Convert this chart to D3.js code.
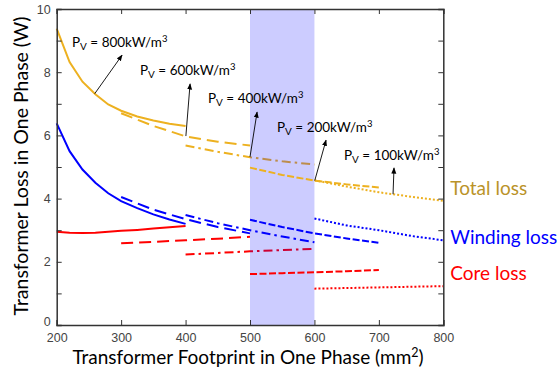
<!DOCTYPE html>
<html>
<head>
<meta charset="utf-8">
<script src="https://cdn.jsdelivr.net/npm/d3@7"></script>
<style>
  body { margin: 0; background: #fff; }
  svg { display: block; }
</style>
</head>
<body>
<svg id="chart" width="557" height="375"></svg>
<script>
// Loss curves, one set per core loss density P_V

// 800 kW/m3 (solid)
const x800 = [200, 220, 240, 260, 280, 300, 325, 350, 375, 400];
const total800 = [9.38, 8.32, 7.7, 7.3, 6.98, 6.78, 6.6, 6.47, 6.37, 6.3];
const winding800 = [6.38, 5.5, 4.92, 4.5, 4.17, 3.92, 3.7, 3.5, 3.34, 3.2];
const core800 = [2.95, 2.92, 2.91, 2.92, 2.95, 2.98, 3.01, 3.05, 3.09, 3.13];

// 600 kW/m3 (long dash)
const x600 = [300, 350, 400, 450, 500];
const total600 = [6.7, 6.3, 5.97, 5.8, 5.68];
const winding600 = [4.05, 3.65, 3.35, 3.1, 2.9];
const core600 = [2.59, 2.63, 2.68, 2.73, 2.79];

// 400 kW/m3 (dash-dot)
const x400 = [400, 450, 500, 550, 600];
const total400 = [5.68, 5.48, 5.31, 5.18, 5.08];
const winding400 = [3.48, 3.22, 3.0, 2.8, 2.62];
const core400 = [2.23, 2.28, 2.33, 2.37, 2.41];

// 200 kW/m3 (short dash)
const x200 = [500, 550, 600, 650, 700];
const total200 = [4.98, 4.75, 4.57, 4.45, 4.35];
const winding200 = [3.33, 3.1, 2.9, 2.74, 2.6];
const core200 = [1.61, 1.64, 1.67, 1.7, 1.74];

// 100 kW/m3 (dotted)
const x100 = [600, 650, 700, 750, 800];
const total100 = [4.58, 4.38, 4.2, 4.06, 3.93];
const winding100 = [3.37, 3.15, 3.0, 2.82, 2.68];
const core100 = [1.15, 1.17, 1.19, 1.21, 1.23];

// shaded footprint band
const bandRange = [500, 600];

const xTicks = [200, 300, 400, 500, 600, 700, 800];

const lossNames = ["Total loss", "Winding loss", "Core loss"];
const lossLabelValues = [4.3, 2.75, 1.6];

// annotation labels and the points their arrows join (data units)
const pvLabels = ["800", "600", "400", "200", "100"];
const arrowFrom = [[259, 7.32], [400.5, 5.98], [500, 5.32], [600.5, 4.57], [722, 4.14]];
const arrowTo = [[301.5, 8.54], [407, 7.63], [511, 6.74], [618, 5.85], [723.5, 4.97]];

const svg = d3.select("#chart");
const margin = { left: 56.7, top: 9, right: 113.7, bottom: 50 };
const W = 557 - margin.left - margin.right;
const H = 375 - margin.top - margin.bottom;

const xScale = d3.scaleLinear().domain([200, 800]).range([0, W]);
const yScale = d3.scaleLinear().domain([0, 10]).range([H, 0]);

const g = svg.append("g")
    .attr("transform", `translate(${margin.left},${margin.top})`);

const gold = "#EDB120";
const blue = "#0000FF";
const red = "#FF0000";

const line = d3.line()
    .x(d => xScale(d[0]))
    .y(d => yScale(d[1]));

function drawCurve(xs, ys, color, dash) {
    g.append("path")
        .datum(d3.zip(xs, ys))
        .attr("d", line)
        .attr("fill", "none")
        .attr("stroke", color)
        .attr("stroke-width", 2)
        .attr("stroke-dasharray", dash);
}

// curves underneath the shaded band
drawCurve(x800, total800, gold, null);
drawCurve(x800, winding800, blue, null);
drawCurve(x800, core800, red, null);
drawCurve(x600, total600, gold, "12,6");
drawCurve(x600, winding600, blue, "12,6");
drawCurve(x600, core600, red, "12,6");
drawCurve(x400, total400, gold, "9,4,2.5,4");
drawCurve(x400, winding400, blue, "9,4,2.5,4");
drawCurve(x400, core400, red, "9,4,2.5,4");

// shaded band (translucent so the lines show through)
g.append("rect")
    .attr("x", xScale(bandRange[0]))
    .attr("y", 0)
    .attr("width", xScale(bandRange[1]) - xScale(bandRange[0]))
    .attr("height", H)
    .attr("fill", "#0000FF")
    .attr("fill-opacity", 0.2);

drawCurve(x200, total200, gold, "7,2.5");
drawCurve(x200, winding200, blue, "7,2.5");
drawCurve(x200, core200, red, "7,2.5");
drawCurve(x100, total100, gold, "2,2");
drawCurve(x100, winding100, blue, "2,2");
drawCurve(x100, core100, red, "2,2");

// axes box with inward ticks
const axisColor = "#333";
const tickFont = "'Liberation Sans', Arial, sans-serif";

g.append("g")
    .attr("transform", `translate(0,${H})`)
    .call(d3.axisBottom(xScale).tickValues(xTicks).tickSize(-5).tickPadding(8))
    .call(a => a.selectAll("text").attr("font-size", 12.5).attr("font-family", tickFont).attr("fill", "#444"));
g.append("g")
    .call(d3.axisTop(xScale).tickValues(xTicks).tickSize(-5).tickFormat(""));
g.append("g")
    .call(d3.axisLeft(yScale).tickValues(d3.range(0, 11, 1)).tickSize(-5).tickFormat(d => d % 2 === 0 ? d : "").tickPadding(6))
    .call(a => a.selectAll("text").attr("font-size", 12.5).attr("font-family", tickFont).attr("fill", "#444"))
    .call(a => a.selectAll(".tick").filter(d => d === 0).select("text").attr("dy", "0.05em"));
g.append("g")
    .attr("transform", `translate(${W},0)`)
    .call(d3.axisRight(yScale).tickValues(d3.range(0, 11, 1)).tickSize(-5).tickFormat(""));

g.selectAll(".domain").attr("stroke", axisColor).attr("stroke-width", 1.5);
g.selectAll(".tick line").attr("stroke", axisColor).attr("stroke-width", 1);

// axis titles
const titleFont = "Lato, 'Open Sans', sans-serif";
const xt = svg.append("text")
    .attr("x", margin.left + W / 2 - 2)
    .attr("y", 364)
    .attr("text-anchor", "middle")
    .attr("font-family", titleFont)
    .attr("font-size", 19)
    .attr("fill", "#000");
xt.append("tspan").text("Transformer Footprint in One Phase (mm");
xt.append("tspan").attr("dy", -7).attr("font-size", 12.5).text("2");
xt.append("tspan").attr("dy", 7).text(")");

svg.append("text")
    .attr("transform", `translate(28,${margin.top + H / 2 - 1}) rotate(-90)`)
    .attr("text-anchor", "middle")
    .attr("font-family", titleFont)
    .attr("font-size", 19.5)
    .attr("fill", "#000")
    .text("Transformer Loss in One Phase (W)");

// right side labels
const labelColors = ["#BA9328", blue, red];
lossNames.forEach((name, i) => {
    svg.append("text")
        .attr("x", margin.left + W + 7)
        .attr("y", margin.top + yScale(lossLabelValues[i]) + 6)
        .attr("font-family", titleFont)
        .attr("font-size", 19)
        .attr("fill", labelColors[i])
        .text(name);
});

// P_V annotations
svg.append("defs").append("marker")
    .attr("id", "arrow")
    .attr("viewBox", "0 0 10 10")
    .attr("refX", 9).attr("refY", 5)
    .attr("markerWidth", 7).attr("markerHeight", 7)
    .attr("orient", "auto")
    .append("path")
    .attr("d", "M0,1 L10,5 L0,9 Z")
    .attr("fill", "#000");

const textLeft = [72, 140, 208, 277, 344];
const textBase = [46.5, 75, 103, 131.5, 160];

pvLabels.forEach((pv, i) => {
    g.append("line")
        .attr("x1", xScale(arrowFrom[i][0]))
        .attr("y1", yScale(arrowFrom[i][1]))
        .attr("x2", xScale(arrowTo[i][0]))
        .attr("y2", yScale(arrowTo[i][1]))
        .attr("stroke", "#000")
        .attr("stroke-width", 0.9)
        .attr("marker-end", "url(#arrow)");

    const t = svg.append("text")
        .attr("x", textLeft[i])
        .attr("y", textBase[i])
        .attr("font-family", titleFont)
        .attr("font-size", 13.5)
        .attr("fill", "#000");
    t.append("tspan").text("P");
    t.append("tspan").attr("dy", 3).attr("font-size", 10).text("V");
    t.append("tspan").attr("dy", -3).text(` = ${pv}kW/m`);
    t.append("tspan").attr("dy", -5).attr("font-size", 9.5).text("3");
});
</script>
</body>
</html>
